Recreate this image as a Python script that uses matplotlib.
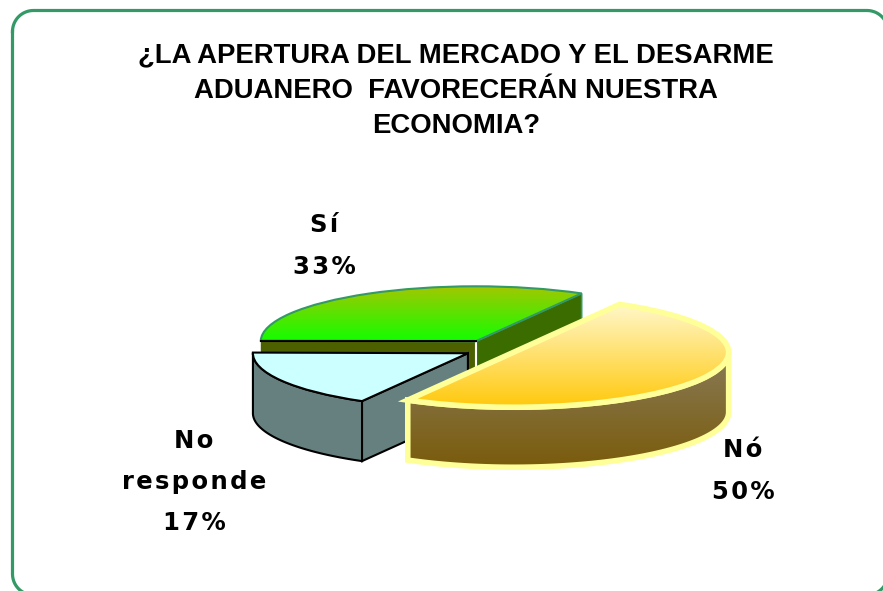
#!/usr/bin/python
# coding: utf-8

""" Exploded pseudo 3D pie chart about opening the market """

import numpy as np
import matplotlib
matplotlib.use('Agg')
import matplotlib.pyplot as plt
from matplotlib.colors import LinearSegmentedColormap
from matplotlib.patches import Polygon

TITLE = "¿LA APERTURA DEL MERCADO Y EL DESARME\nADUANERO  FAVORECERÁN NUESTRA\nECONOMIA?"
labels = ["Sí", "No responde", "Nó"]
shares = [33, 17, 50]
percent_labels = ["33%", "17%", "50%"]

WIDTH, HEIGHT = 883, 591
SPACE = "\u200a"


def spaced(text):
    """ Put a hair space between letters to imitate the wide tracking """
    return SPACE.join(text)


def gradient_fill(ax, patch, colors, top, bottom, left=-3, right=3):
    """ Fill a patch with a vertical gradient, clipped to the patch """
    cmap = LinearSegmentedColormap.from_list("fill", colors)
    grad = np.linspace(0, 1, 256).reshape(-1, 1)
    im = ax.imshow(grad, cmap=cmap, aspect='auto', extent=(left, right, bottom, top),
                   origin='upper', zorder=patch.get_zorder() - 0.5)
    im.set_clip_path(patch)


def point(wedge, angle, drop=0.0):
    """ Point of the wedge rim at a given angle, dropped by drop """
    x0, y0 = wedge.center
    rad = np.deg2rad(angle)
    return x0 + wedge.r * np.cos(rad), y0 + wedge.r * np.sin(rad) - drop


def rim_wall(wedge, start, end, depth):
    """ Outline of the outer wall of a wedge between two angles """
    angles = np.linspace(start, end, 60)
    upper = [point(wedge, a) for a in angles]
    lower = [point(wedge, a, depth) for a in angles[::-1]]
    return upper + lower


def cut_wall(wedge, angle, depth):
    """ Outline of the flat cut wall from the apex to the rim """
    x0, y0 = wedge.center
    px, py = point(wedge, angle)
    return [(x0, y0), (px, py), (px, py - depth), (x0, y0 - depth)]


fig = plt.figure(figsize=(WIDTH / 100, HEIGHT / 100), dpi=100)
ax = fig.add_axes([0, 0, 1, 1])

# pie center and radii in pixels, one data unit is RX wide and RY high
CX, CY, RX, RY = 494.0, 349.4, 215.0, 55.0
DEPTH = 60.0 / RY

wedges, _ = ax.pie(shares, startangle=60.5, counterclock=True, radius=1.0,
                   explode=[0.17, 0.14, 0.105], normalize=True)
green, blue, yellow = wedges


def x_of(pixel_x):
    return (pixel_x - CX) / RX


def y_of(pixel_y):
    return (CY - pixel_y) / RY


# frame, running off the right and bottom edge of the picture
FRAME_L, FRAME_T, FRAME_R, FRAME_B, FRAME_RAD = 12.5, 10.5, 888.0, 595.0, 21.0
corners = [(FRAME_L + FRAME_RAD, FRAME_T + FRAME_RAD, 180, 270),
           (FRAME_R - FRAME_RAD, FRAME_T + FRAME_RAD, 270, 360),
           (FRAME_R - FRAME_RAD, FRAME_B - FRAME_RAD, 0, 90),
           (FRAME_L + FRAME_RAD, FRAME_B - FRAME_RAD, 90, 180)]
frame_x, frame_y = [], []
for cx, cy, a0, a1 in corners:
    arc = np.deg2rad(np.linspace(a0, a1, 20))
    frame_x.extend(cx + FRAME_RAD * np.cos(arc))
    frame_y.extend(cy + FRAME_RAD * np.sin(arc))
frame_x.append(frame_x[0])
frame_y.append(frame_y[0])
ax.plot(x_of(np.array(frame_x)), y_of(np.array(frame_y)), color='#339966', lw=2.3, zorder=1)

# green slice, at the back
green.set(facecolor='none', edgecolor='#339966', linewidth=1.5, zorder=3)
gradient_fill(ax, green, ['#a0c800', '#10ff00'], y_of(287), y_of(342))
left_wall = Polygon(cut_wall(green, green.theta2, DEPTH), facecolor='#4d6000',
                    edgecolor='none', zorder=2)
right_wall = Polygon(cut_wall(green, green.theta1, DEPTH), zorder=2,
                     facecolor='#3a6c00', edgecolor='#339966', linewidth=1.2)
ax.add_patch(left_wall)
ax.add_patch(right_wall)
x0, y0 = green.center
ax.plot([point(green, green.theta2)[0], x0], [y0, y0], color='black', lw=1.5, zorder=4)
ax.plot([x0, x0], [y0, y0 - DEPTH], color='white', lw=1.5, zorder=2.5)

# pale blue slice
for poly in (rim_wall(blue, blue.theta1, blue.theta2, DEPTH),
             cut_wall(blue, blue.theta2, DEPTH)):
    ax.add_patch(Polygon(poly, facecolor='#668080', edgecolor='black', linewidth=1.5, zorder=5))
blue.set(facecolor='#ccffff', edgecolor='black', linewidth=1.5, zorder=6)

# yellow slice, in front
yellow_wall = Polygon(rim_wall(yellow, yellow.theta1, 360, DEPTH), zorder=8,
                      facecolor='none', edgecolor='#ffff99', linewidth=4)
ax.add_patch(yellow_wall)
gradient_fill(ax, yellow_wall, ['#8a7d5e', '#7a5c0c'], y_of(345), y_of(465))
yellow.set(facecolor='none', edgecolor='#ffff99', linewidth=4, zorder=10)
gradient_fill(ax, yellow, ['#fff8cc', '#ffc90e'], y_of(303), y_of(406))

ax.set_xlim(-CX / RX, (WIDTH - CX) / RX)
ax.set_ylim(-(HEIGHT - CY) / RY, CY / RY)
ax.set_aspect('auto')


def px(x, y):
    return x / WIDTH, 1 - y / HEIGHT


fig.text(*px(456, 91), TITLE, ha='center', va='center', fontsize=19.8, fontweight='bold',
         family='Liberation Sans', linespacing=1.46, color='black')

label_style = dict(ha='center', va='center', fontsize=17.5, fontweight='bold',
                   family='DejaVu Sans', linespacing=1.9, color='black')
fig.text(*px(324, 246), spaced(labels[0]) + "\n" + spaced(percent_labels[0]), **label_style)
fig.text(*px(194, 482), spaced("No") + "\n" + spaced("responde") + "\n" + spaced(percent_labels[1]),
         **label_style)
fig.text(*px(743, 471), spaced(labels[2]) + "\n" + spaced(percent_labels[2]), **label_style)

fig.savefig('out.png', dpi=100, facecolor='white')
